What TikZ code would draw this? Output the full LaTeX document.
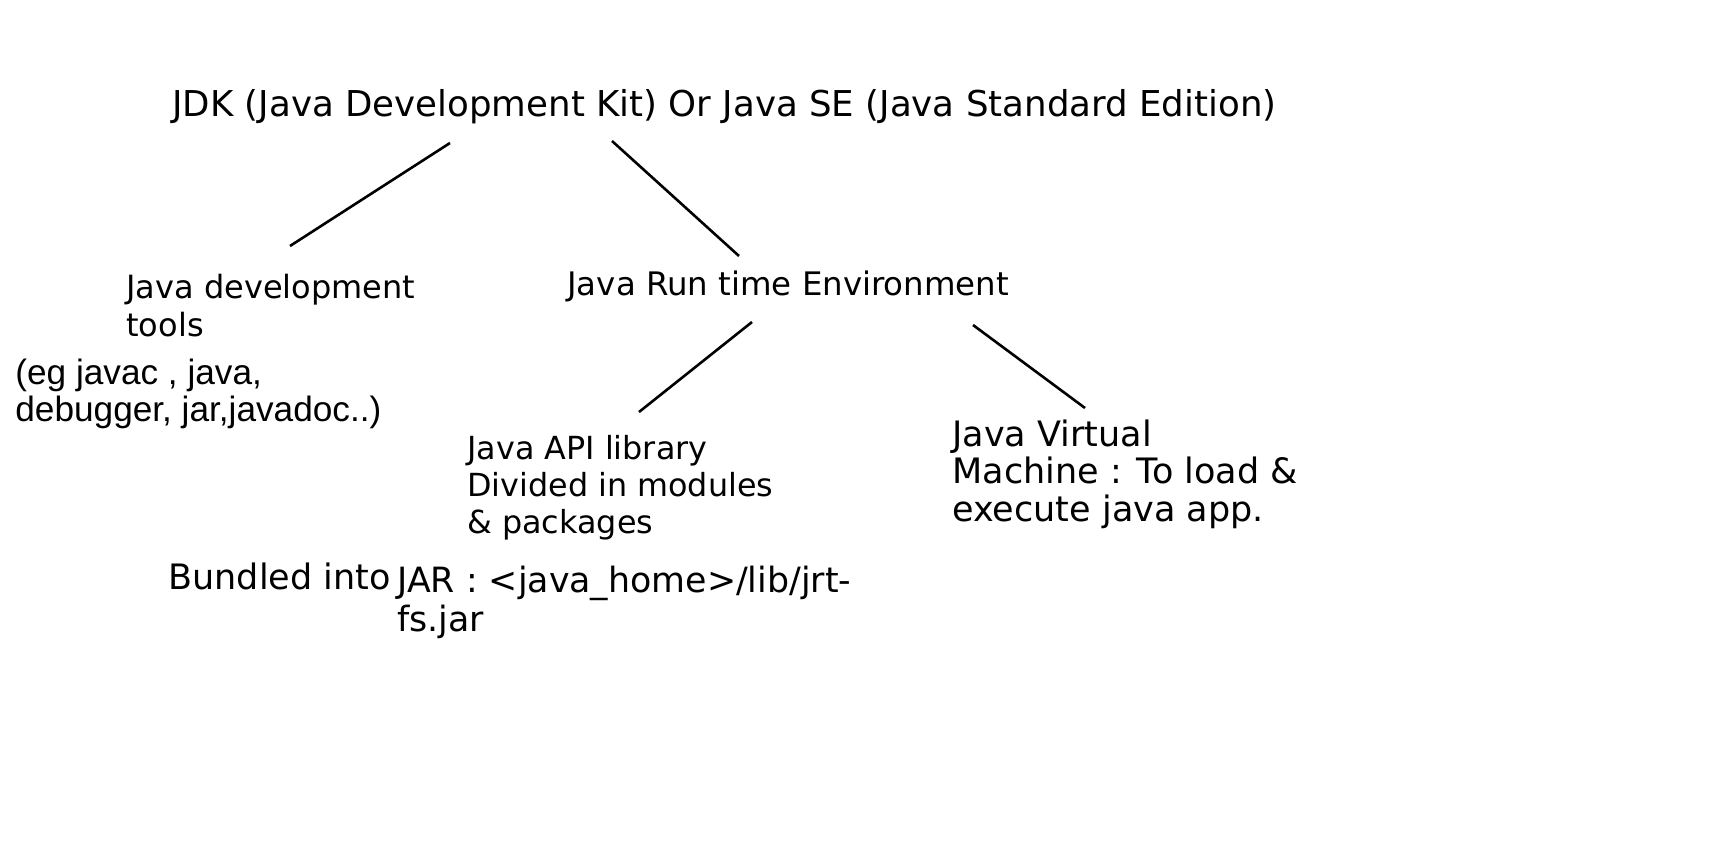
\documentclass[tikz,border=0pt]{standalone}
\usepackage{fontspec}
\newfontfamily\tahfont{DejaVu Sans}
\newfontfamily\verfont{DejaVu Sans}
\newfontfamily\arifont{Liberation Sans}
\begin{document}
\begin{tikzpicture}[x=0.5pt, y=-0.5pt]
		\tikzset{
		    tlabel/.style= {anchor=base west, align=left, inner sep=0pt, font=\tahfont\fontsize{16.2}{18.5}\selectfont},
		    vlabel/.style= {anchor=base west, align=left, inner sep=0pt, font=\verfont\fontsize{17.5}{18.75}\selectfont},
		    alabel/.style= {anchor=base west, align=left, inner sep=0pt, font=\arifont\fontsize{17.6}{18.5}\selectfont},
		    branch/.style= {black, line width=1.3pt},
		}
		
		\useasboundingbox[fill=white] (0,0) rectangle (1728,840);
		
		% multi-line labels sit on the baseline of their last line
		\node[tlabel, font=\tahfont\fontsize{17.8}{20}\selectfont] (jdk) at (172, 117) {JDK (Java Development Kit) Or Java SE (Java Standard Edition)};
		
		\node[vlabel, font=\verfont\fontsize{16}{19}\selectfont] (tools) at (126, 336) {Java development\\tools};
		\node[alabel] (egs) at (15, 421) {(eg javac , java,\\debugger, jar,javadoc..)};
		\node[tlabel] (jre) at (567, 295) {Java Run time Environment};
		
		\node[tlabel, font=\tahfont\fontsize{15.9}{18.5}\selectfont] (api) at (467, 533) {Java API library\\Divided in modules\\\& packages};
		\node[vlabel] (jvm) at (952, 521) {Java Virtual\\Machine : To load \&\\execute java app.};
		
		\node[tlabel, font=\tahfont\fontsize{17.5}{19.5}\selectfont] (bund) at (168, 589) {Bundled into};
		\node[tlabel, font=\tahfont\fontsize{17.4}{19.5}\selectfont] (jar) at (397, 631) {JAR : <java\_home>/lib/jrt-\\fs.jar};
		
		\coordinate (jdk1) at (450, 143);
		\coordinate (jdk2) at (612, 141);
		\coordinate (tools0) at (290, 246);
		\coordinate (jre0) at (739, 256);
		\coordinate (jre1) at (752, 322);
		\coordinate (jre2) at (973, 325);
		\coordinate (api0) at (639, 412);
		\coordinate (jvm0) at (1085, 408);
		
		\draw[branch]
		(jdk1) edge (tools0)
		(jdk2) edge (jre0)
		(jre1) edge (api0)
		(jre2) edge (jvm0);
	\end{tikzpicture}
\end{document}
